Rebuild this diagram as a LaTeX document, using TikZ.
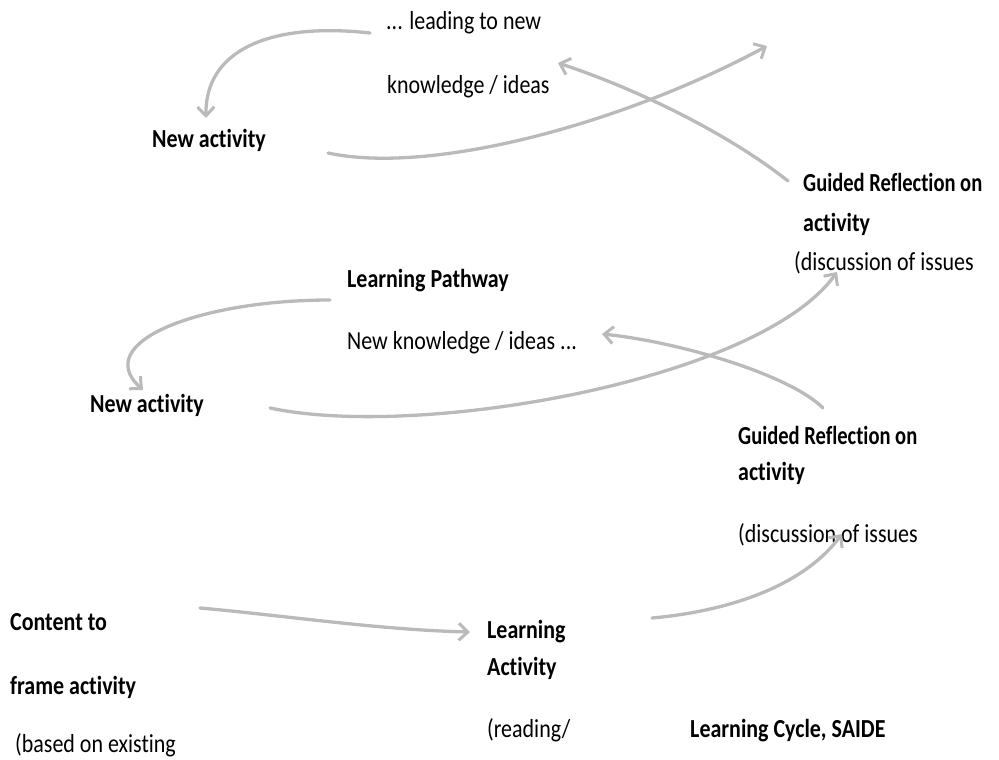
\documentclass[tikz,border=0pt]{standalone}
\usepackage{fontspec}
\setmainfont{Carlito}[FakeStretch=0.845, Ligatures=NoCommon]
\newfontfamily\narrowcal{Carlito}[FakeStretch=0.79, Ligatures=NoCommon]
\usetikzlibrary{arrows.meta}

\tikzset{
  txt/.style={anchor=base west, inner sep=0pt, font=\fontsize{26}{30}\selectfont},
  txtb/.style={txt, font=\fontsize{26}{30}\selectfont\bfseries},
  txtn/.style={txt, font=\fontsize{26}{30}\selectfont\narrowcal\bfseries},
  pathline/.style={draw=black!27, line width=3.3pt, line cap=round,
    -{Straight Barb[length=9pt,width=17pt,line width=3pt]}}
}

\begin{document}
\begin{tikzpicture}[x=1pt, y=-1pt]
\useasboundingbox (0,0) rectangle (999,760);

% upper cycle
\node[txt]  (lead)     at (386,30)  {... leading to new};
\node[txt]  (knowA)    at (387,93)  {knowledge / ideas};
\node[txtb] (newactA)  at (152,147) {New activity};
\node[txtn] (guideA)   at (803,191) {Guided Reflection on};
\node[txtb] (guideA2)  at (803,231) {activity};
\node[txt]  (discA)    at (794,270) {(discussion of issues};

% middle cycle
\node[txtb] (pathway)  at (347,287) {Learning Pathway};
\node[txt]  (knowB)    at (347,349) {New knowledge / ideas ...};
\node[txtb] (newactB)  at (90,412)  {New activity};
\node[txtn] (guideB)   at (738,444) {Guided Reflection on};
\node[txtb] (guideB2)  at (738,480) {activity};
\node[txt]  (discB)    at (738,542) {(discussion of issues};

% first step
\node[txtb] (content)  at (10,630)  {Content to};
\node[txtb] (frame)    at (10,694)  {frame activity};
\node[txt]  (based)    at (15,752)  {(based on existing};
\node[txtb] (learnA)   at (487,638) {Learning};
\node[txtb] (learnB)   at (487,675) {Activity};
\node[txt]  (reading)  at (487,737) {(reading/};
\node[txtb] (cycle)    at (690,737) {Learning Cycle, SAIDE};

% free ends of the hand drawn arrows
\coordinate (a1) at (370,33);  \coordinate (b1) at (206,118);
\coordinate (a2) at (328,153); \coordinate (b2) at (767,46);
\coordinate (a3) at (788,181); \coordinate (b3) at (558,63);
\coordinate (a4) at (330,300); \coordinate (b4) at (143,390);
\coordinate (a5) at (270,408); \coordinate (b5) at (837,272);
\coordinate (a6) at (823,408); \coordinate (b6) at (602,334);
\coordinate (a7) at (200,608); \coordinate (b7) at (470,632);
\coordinate (a8) at (652,618); \coordinate (b8) at (842,534);

\draw[pathline] (a1) .. controls (270,22) and (205,50) .. (b1);
\draw[pathline] (a2) .. controls (430,175) and (620,125) .. (b2);
\draw[pathline] (a3) .. controls (730,135) and (640,90) .. (b3);
\draw[pathline] (a4) .. controls (200,300) and (90,342) .. (b4);
\draw[pathline] (a5) .. controls (420,440) and (760,380) .. (b5);
\draw[pathline] (a6) .. controls (790,375) and (680,342) .. (b6);
\draw[pathline] (a7) .. controls (280,615) and (380,630) .. (b7);
\draw[pathline] (a8) .. controls (720,612) and (800,590) .. (b8);
\end{tikzpicture}
\end{document}
